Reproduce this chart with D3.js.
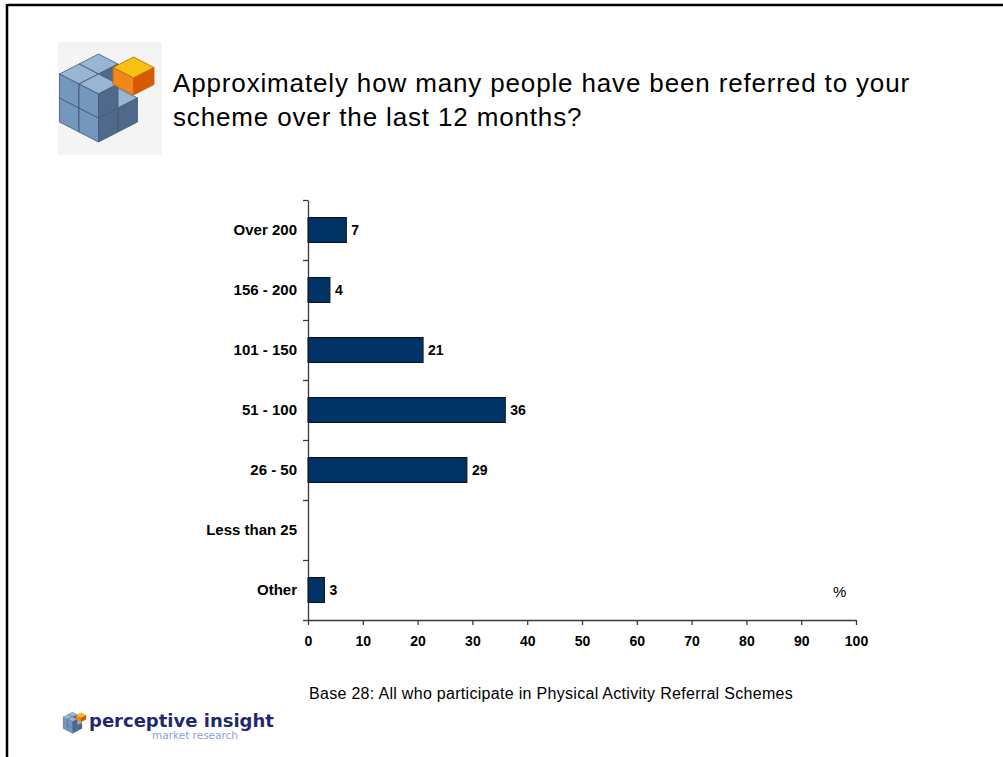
<!DOCTYPE html>
<html>
<head>
<meta charset="utf-8">
<script src="https://cdn.jsdelivr.net/npm/d3@7"></script>
<style>
  body { margin: 0; background: #fff; }
  svg { display: block; font-family: "Liberation Sans", Arial, sans-serif; }
</style>
</head>
<body>
<svg id="chart" width="1003" height="757"></svg>
<script>
// Survey answers: number of people referred over the last 12 months (%)
const categories = ["Over 200", "156 - 200", "101 - 150", "51 - 100", "26 - 50", "Less than 25", "Other"];
const values = [7, 4, 21, 36, 29, null, 3];
const xTicks = [0, 10, 20, 30, 40, 50, 60, 70, 80, 90, 100];

const titleLines = [
  "Approximately how many people have been referred to your",
  "scheme over the last 12 months?"
];
const baseNote = "Base 28: All who participate in Physical Activity Referral Schemes";

const svg = d3.select("#chart");

// slide frame (top and left rules)
svg.append("line").attr("x1", 7).attr("x2", 1003).attr("y1", 5).attr("y2", 5)
  .attr("stroke", "#000").attr("stroke-width", 2.5);
svg.append("line").attr("x1", 7).attr("x2", 7).attr("y1", 4).attr("y2", 757)
  .attr("stroke", "#000").attr("stroke-width", 2.5);

// ---- cube logo ----
function cube(g, ox, oy, hw, hh, v, i, j, k, cols, stroke) {
  const p = (a, b, c) => [ox + (a - b) * hw, oy + (a + b) * hh - c * v];
  const faces = [
    { pts: [p(i, j, k + 1), p(i + 1, j, k + 1), p(i + 1, j + 1, k + 1), p(i, j + 1, k + 1)], fill: cols[0] },
    { pts: [p(i, j + 1, k), p(i + 1, j + 1, k), p(i + 1, j + 1, k + 1), p(i, j + 1, k + 1)], fill: cols[1] },
    { pts: [p(i + 1, j, k), p(i + 1, j + 1, k), p(i + 1, j + 1, k + 1), p(i + 1, j, k + 1)], fill: cols[2] }
  ];
  faces.forEach(f => g.append("polygon")
    .attr("points", f.pts.map(q => q.join(",")).join(" "))
    .attr("fill", f.fill).attr("stroke", stroke).attr("stroke-width", 0.8)
    .attr("stroke-linejoin", "round"));
}

function drawLogo(g) {
  const blue = ["#98b5d3", "#7497bd", "#50698b"];
  const orange = ["#f7c20f", "#f2871c", "#d55a02"];
  const cells = [];
  for (let k = 0; k < 2; k++)
    for (let i = 0; i < 2; i++)
      for (let j = 0; j < 2; j++)
        if (!(k === 1 && i === 1 && j === 0)) cells.push([i, j, k]);
  cells.sort((a, b) => (a[0] + a[1] + a[2]) - (b[0] + b[1] + b[2]) || a[2] - b[2]);
  const cy = 54 + 2 * 24;
  cells.forEach(c => cube(g, 98.5, cy, 19.5, 10, 24, c[0], c[1], c[2], blue, "#44597a"));
  // orange cube lifted off the block, top corner at (133.5, 57)
  cube(g, 133.5, 57 + 17, 20.5, 10.5, 17, 0, 0, 0, orange, "#c9600a");
}

// large logo with its pale backdrop
svg.append("rect").attr("x", 58).attr("y", 42).attr("width", 104).attr("height", 113)
  .attr("fill", "#f4f4f4");
const bigLogo = svg.append("g");
drawLogo(bigLogo);

// title
const title = svg.append("text").attr("x", 173).attr("y", 92)
  .attr("font-size", 26).attr("letter-spacing", 0.85).attr("fill", "#000");
titleLines.forEach((t, n) => title.append("tspan").attr("x", 173).attr("y", 92 + n * 34).text(t));

// ---- bar chart ----
const x = d3.scaleLinear().domain([0, 100]).range([308, 856]);
const y = d3.scaleBand().domain(categories).range([200, 620])
  .paddingInner(0.583).paddingOuter(0.2915);
const yEdge = d3.scaleLinear().domain([0, categories.length]).range([200, 620]);

const axisColor = "#3a3a3a";

svg.append("g").attr("transform", "translate(308,0)")
  .call(d3.axisLeft(yEdge).tickValues(d3.range(0, categories.length + 1))
    .tickFormat("").tickSize(5).tickSizeOuter(0))
  .call(g => g.selectAll("line,path").attr("stroke", axisColor).attr("stroke-width", 1.3));

const xAxis = svg.append("g").attr("transform", "translate(0,620)")
  .call(d3.axisBottom(x).tickValues(xTicks).tickSize(5).tickPadding(11).tickSizeOuter(0));
xAxis.attr("font-family", null).attr("font-size", null);
xAxis.selectAll("line,path").attr("stroke", axisColor).attr("stroke-width", 1.3);
xAxis.selectAll("text").style("font-family", "'Liberation Sans', Arial, sans-serif")
  .attr("font-size", 14).attr("font-weight", "bold").attr("fill", "#000");

const rows = categories.map((c, n) => ({ c, v: values[n] }));

svg.append("g").selectAll("rect").data(rows.filter(d => d.v != null)).join("rect")
  .attr("x", x(0)).attr("y", d => y(d.c))
  .attr("width", d => x(d.v) - x(0)).attr("height", y.bandwidth())
  .attr("fill", "#003366").attr("stroke", "#111").attr("stroke-width", 1);

svg.append("g").selectAll("text").data(rows.filter(d => d.v != null)).join("text")
  .attr("x", d => x(d.v) + 5).attr("y", d => y(d.c) + y.bandwidth() / 2).attr("dy", "0.36em")
  .attr("font-size", 14).attr("font-weight", "bold").text(d => d.v);

svg.append("g").selectAll("text").data(categories).join("text")
  .attr("x", 297).attr("y", d => y(d) + y.bandwidth() / 2).attr("dy", "0.36em")
  .attr("text-anchor", "end").attr("font-size", 15).attr("font-weight", "bold").text(d => d);

svg.append("text").attr("x", 833).attr("y", 597).attr("font-size", 15).text("%");

svg.append("text").attr("x", 309).attr("y", 699).attr("font-size", 16)
  .attr("letter-spacing", 0.3).text(baseNote);

// footer brand mark
const smallScale = 0.244;
const smallLogo = svg.append("g")
  .attr("transform", `translate(${72.5 - 98.5 * smallScale},${712 - 54 * smallScale}) scale(${smallScale})`);
drawLogo(smallLogo);

svg.append("text").attr("x", 89).attr("y", 727)
  .style("font-family", "'DejaVu Sans', sans-serif").attr("font-size", 18).attr("font-weight", "bold")
  .attr("fill", "#1f2a6e").text("perceptive insight");
svg.append("text").attr("x", 152).attr("y", 739)
  .style("font-family", "'DejaVu Sans', sans-serif").attr("font-size", 10.5)
  .attr("fill", "#8ba2d6").text("market research");
</script>
</body>
</html>
